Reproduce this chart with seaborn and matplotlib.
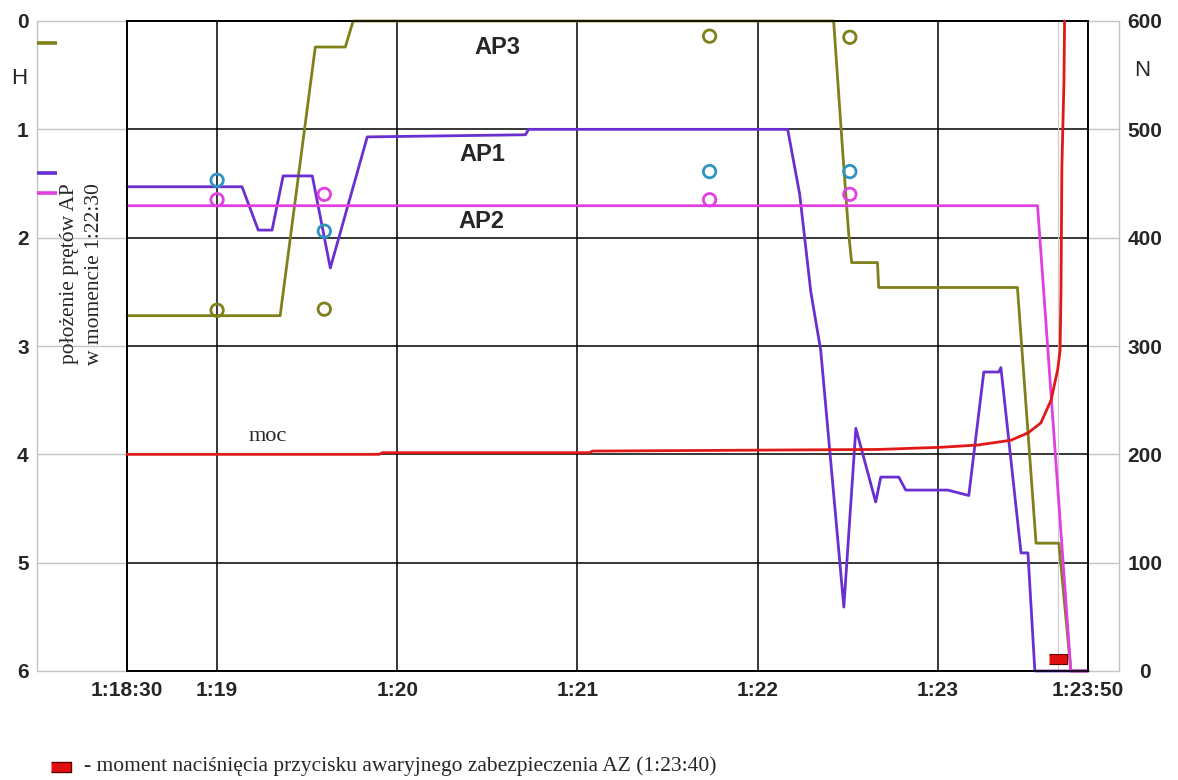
import numpy as np
import pandas as pd
import matplotlib
matplotlib.use("Agg")
import matplotlib.pyplot as plt
import seaborn as sns
from matplotlib.transforms import blended_transform_factory

# time axis: seconds after 1:18:30
tick_t = [0, 30, 90, 150, 210, 270, 320]
tick_lbl = ["1:18:30", "1:19", "1:20", "1:21", "1:22", "1:23", "1:23:50"]

# rod positions H (0 = fully withdrawn)
ap3_t = [0, 51, 62.7, 72.7, 75.3, 235.3, 238.3, 240.3, 241.3, 249.9, 250.3, 296.5, 302.7, 310.3, 314.3, 320]
ap3_h = [2.72, 2.72, 0.24, 0.24, 0.0, 0.0, 1.2, 1.96, 2.23, 2.23, 2.46, 2.46, 4.82, 4.82, 6.0, 6.0]

ap1_t = [0, 38.3, 43.7, 48.3, 52, 61.7, 67.7, 80, 132.7, 133.7, 220, 224, 227.7, 231, 238.7, 242.7,
         249.3, 251, 257, 259.3, 273.3, 280.3, 285.3, 290.3, 291, 297.7, 300, 302.3, 320]
ap1_h = [1.53, 1.53, 1.93, 1.93, 1.43, 1.43, 2.28, 1.07, 1.05, 1.0, 1.0, 1.6, 2.5, 3.04, 5.41, 3.76,
         4.44, 4.21, 4.21, 4.33, 4.33, 4.38, 3.24, 3.24, 3.2, 4.91, 4.91, 6.0, 6.0]

ap2_t = [0, 303.2, 314.3, 320]
ap2_h = [1.705, 1.705, 6.0, 6.0]

# reactor power N
moc_t = [0, 84, 85, 154, 155, 250, 271, 283.3, 294.3, 300, 304.3, 307.7, 309.9, 310.7, 311, 311.3, 312, 312.2]
moc_n = [200, 200, 201.5, 201.5, 203, 204.5, 206.5, 208.6, 213, 219.7, 229, 250, 278, 296, 349, 465, 545, 600]

# measured rod positions (circles)
pt_t = [30, 65.7, 194, 240.7]
pt_ap3 = [2.67, 2.66, 0.14, 0.15]
pt_ap1 = [1.47, 1.94, 1.39, 1.39]
pt_ap2 = [1.65, 1.60, 1.65, 1.60]

# rod positions at 1:22:30 (marks on left axis)
pos_2230 = [0.2, 1.40, 1.59]
az_t = 310

c_ap3 = "#80801a"
c_ap1 = "#6a2fd0"
c_ap2 = "#e040e0"
c_moc = "#e01818"
c_blue = "#2f95c0"

sns.set_style("white")
W, H = 1178, 780
fig = plt.figure(figsize=(W / 100, H / 100), dpi=100)
L, R, T, B = 127, 1088, 21, 671
ax = fig.add_axes([L / W, 1 - B / H, (R - L) / W, (B - T) / H])
ax2 = ax.twinx()

for t, h, c in [(ap3_t, ap3_h, c_ap3), (ap1_t, ap1_h, c_ap1), (ap2_t, ap2_h, c_ap2)]:
    sns.lineplot(x=t, y=h, ax=ax, color=c, lw=2.0, estimator=None, sort=False, zorder=4, clip_on=False)

for y, c in [(pt_ap3, c_ap3), (pt_ap1, c_blue), (pt_ap2, c_ap2)]:
    sns.scatterplot(x=pt_t, y=y, ax=ax, marker="o", s=80, facecolor="none",
                    edgecolor=c, linewidth=2, zorder=5)

sns.lineplot(x=moc_t, y=moc_n, ax=ax2, color=c_moc, lw=2.0, estimator=None, sort=False, zorder=4, clip_on=False)

ax.set_xlim(0, 320)
ax.set_ylim(6, 0)
ax2.set_ylim(0, 600)
ax.set_xticks(tick_t)
ax.set_xticklabels(tick_lbl)
ax.set_yticks(range(7))
ax2.set_yticks(range(0, 601, 100))

ax.grid(True, color="black", lw=1.1)
ax.set_axisbelow(True)
for a in (ax, ax2):
    for s in a.spines.values():
        s.set_color("black")
        s.set_linewidth(1.2)
ax.tick_params(axis="x", length=0, pad=7)
ax.tick_params(axis="y", length=0, pad=75)
ax2.tick_params(axis="y", length=0, pad=41)
for lab in ax.get_xticklabels() + ax.get_yticklabels() + ax2.get_yticklabels():
    lab.set_fontfamily("Liberation Sans")
    lab.set_fontweight("bold")
    lab.set_fontsize(15)
for lab in ax.get_yticklabels() + ax2.get_yticklabels():
    lab.set_horizontalalignment("center")
ax.set_xlabel("")
ax.set_ylabel("")
ax2.set_ylabel("")

# light grey outer axes on both sides
tr = blended_transform_factory(ax.transAxes, ax.transData)
xl = (37 - L) / (R - L)
xr = (1119 - L) / (R - L)
gray = "#c4c4c4"
ax.plot([xl, xl], [0, 6], transform=tr, clip_on=False, color=gray, lw=1)
ax.plot([xr, xr], [0, 6], transform=tr, clip_on=False, color=gray, lw=1)
for k in range(7):
    ax.plot([xl, 0], [k, k], transform=tr, clip_on=False, color=gray, lw=1)
    ax.plot([1, xr], [k, k], transform=tr, clip_on=False, color=gray, lw=1)

# short coloured marks: rod positions at 1:22:30
xm = (57 - L) / (R - L)
for y, c in zip(pos_2230, [c_ap3, c_ap1, c_ap2]):
    ax.plot([xl, xm], [y, y], transform=tr, clip_on=False, color=c, lw=2.6, solid_capstyle="butt")

# AZ button moment
ax.axvline(az_t, color="#cccccc", lw=0.8, zorder=2)
rect = [(-1, -0.5), (1, -0.5), (1, 0.5), (-1, 0.5)]
ax.scatter([az_t], [5.89], marker=rect, s=180, color="#e01010", edgecolor="#600000", lw=0.8, zorder=6)

lab_kw = dict(fontsize=17, fontweight="bold", ha="center", va="center", family="Liberation Sans")
ax.text(123.3, 0.24, "AP3", **lab_kw)
ax.text(118.2, 1.23, "AP1", **lab_kw)
ax.text(117.9, 1.85, "AP2", **lab_kw)
ax.text(47, 3.84, "moc", fontsize=16, ha="center", va="center", family="Liberation Serif")

fig.text(19 / W, 1 - 78 / H, "H", fontsize=16, ha="center", va="center", family="Liberation Sans")
fig.text(1142 / W, 1 - 70 / H, "N", fontsize=16, ha="center", va="center", family="Liberation Sans")
fig.text(82 / W, 1 - 274 / H, "położenie prętów AP\nw momencie 1:22:30", rotation=90,
         fontsize=15.5, ha="center", va="center", family="Liberation Serif", linespacing=1.45)

fig.lines.append(plt.Line2D([61 / W], [1 - 767 / H], marker=rect, markersize=15, color="#e01010",
                            markeredgecolor="#600000", transform=fig.transFigure))
fig.text(84 / W, 1 - 766 / H, "- moment naciśnięcia przycisku awaryjnego zabezpieczenia AZ (1:23:40)",
         fontsize=15.5, ha="left", va="center", family="Liberation Serif")

fig.savefig("out.png", dpi=100)
